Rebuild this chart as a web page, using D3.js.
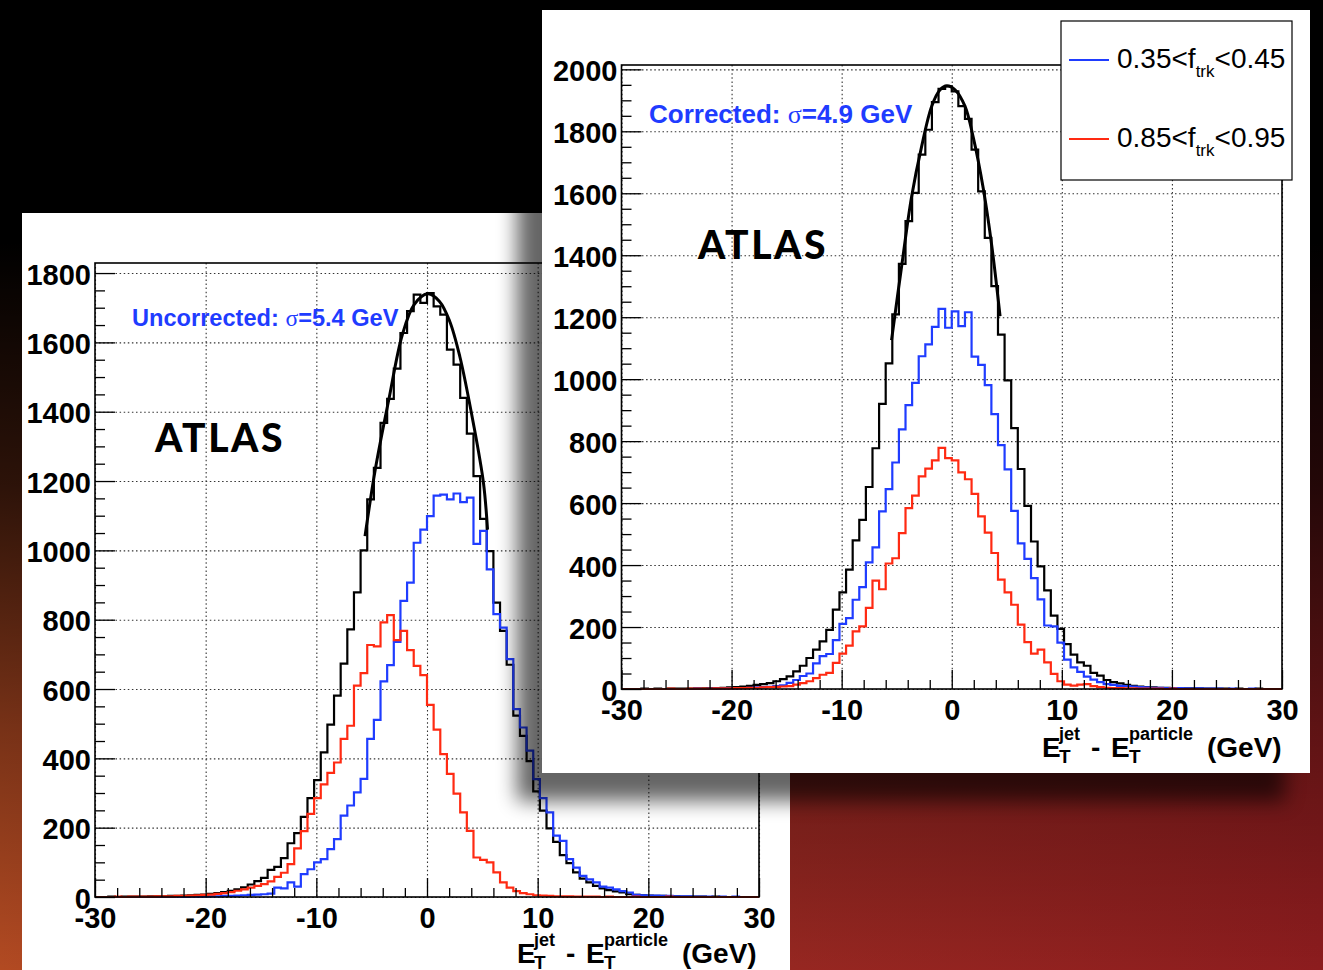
<!DOCTYPE html>
<html>
<head>
<meta charset="utf-8">
<script src="https://cdn.jsdelivr.net/npm/d3@7"></script>
<style>
  body { margin: 0; background: #000; overflow: hidden; }
</style>
</head>
<body>
<svg id="chart"></svg>
<script>
// binning: 100 bins from -30 to 30 GeV
var xMin = -30, xMax = 30, nBins = 100;
var xTicks = [-30, -20, -10, 0, 10, 20, 30];
var xMinor = [-28, -26, -24, -22, -18, -16, -14, -12, -8, -6, -4, -2, 2, 4, 6, 8, 12, 14, 16, 18, 22, 24, 26, 28];
var leftYTicks = [0, 200, 400, 600, 800, 1000, 1200, 1400, 1600, 1800];
var rightYTicks = [0, 200, 400, 600, 800, 1000, 1200, 1400, 1600, 1800, 2000];

// uncorrected (left panel)
var leftAll = [0,0,1,0,1,1,1,1,2,2, 2,3,3,4,5,6,7,9,11,14,
  18,22,28,36,46,55,78,87,112,155, 184,231,285,337,417,497,581,673,772,879,
  1000,1147,1238,1368,1437,1524,1627,1690,1738,1714, 1742,1704,1680,1579,1536,1440,1337,1214,1091,998,
  849,768,670,523,465,392,305,249,198,159, 121,98,71,53,42,32,25,20,16,13,
  8,6,5,4,3,3,2,2,1,1, 1,1,0,1,0,0,0,0,0,0];
var leftLow = [0,0,0,0,0,0,0,0,0,0, 0,0,1,0,1,1,1,2,2,3,
  3,4,5,6,7,8,10,27,25,42, 30,66,80,100,109,138,167,235,264,302,
  341,456,511,622,669,736,854,907,1022,1060, 1099,1158,1161,1147,1164,1139,1152,1019,1056,945,
  816,777,686,542,489,422,340,285,244,177, 162,109,85,61,51,42,30,27,22,17,
  13,6,5,4,4,3,3,2,2,2, 1,1,1,0,1,0,1,0,0,0];
var leftHigh = [0,0,0,1,0,1,1,1,1,2, 2,2,3,3,4,5,6,7,9,11,
  14,18,22,27,32,37,45,58,70,95, 140,190,240,285,325,358,388,456,494,610,
  646,727,723,792,813,741,768,712,667,640, 554,483,412,355,298,244,191,114,107,100,
  71,42,27,17,11,8,5,4,3,2, 2,2,1,1,1,1,0,1,0,0,
  0,1,0,0,0,0,1,0,0,0, 0,0,0,0,0,0,0,0,0,0];
var leftFit = [[-5.6,1041],[-4.67,1234],[-3.45,1435],[-2.23,1622],[-1.16,1709],[0.06,1740],
  [1.13,1718],[2.05,1661],[2.96,1560],[4.18,1368],[5.1,1195],[5.47,1060]];

// corrected (right panel)
var rightAll = [0,0,0,1,0,1,0,1,1,1, 1,2,2,3,3,4,5,6,8,10,
  13,16,19,25,32,41,57,75,100,127, 154,191,256,312,385,480,546,652,777,920,
  1051,1209,1372,1510,1601,1725,1805,1894,1937,1945, 1929,1881,1840,1741,1606,1456,1300,1144,996,842,
  710,591,476,396,318,237,194,145,111,86, 75,52,43,29,22,18,13,10,8,6,
  5,4,4,3,3,2,2,2,1,1, 1,1,0,1,0,0,1,0,0,0];
var rightLow = [0,0,0,0,0,0,0,0,0,0, 0,1,0,1,1,1,2,2,3,4,
  5,6,7,9,12,20,29,42,50,83, 106,113,158,210,229,288,329,409,457,573,
  645,731,838,916,988,1074,1112,1169,1227,1166, 1219,1171,1216,1073,1046,981,887,787,709,575,
  470,420,358,289,205,202,150,95,70,55, 40,30,22,16,13,10,9,8,6,5,
  4,4,3,2,3,2,1,2,1,1, 1,0,1,0,0,1,0,0,0,0];
var rightHigh = [0,0,0,0,0,0,0,1,0,0, 1,1,1,1,2,2,2,3,3,4,
  4,5,6,7,8,9,14,19,25,35, 46,52,84,114,140,186,202,262,350,322,
  405,422,503,584,624,686,711,738,778,745, 738,699,677,630,557,505,439,353,312,272,
  208,151,114,127,86,49,25,14,11,14, 16,9,6,4,3,3,2,2,1,1,
  1,1,0,1,0,0,0,0,0,0, 0,0,0,0,0,0,0,0,0,0];
var rightFit = [[-5.47,1126],[-4.55,1365],[-3.64,1590],[-2.73,1752],[-1.82,1881],[-1.06,1934],
  [-0.45,1947],[0.3,1934],[1.2,1881],[1.97,1778],[2.88,1612],[3.64,1429],[4.39,1203]];

var legendLabels = [["0.35<f", "trk", "<0.45"], ["0.85<f", "trk", "<0.95"]];

var colAll = "#000000", colLow = "#1f3cff", colHigh = "#ff2a12";
var labelFont = "'Liberation Sans', Arial, Helvetica, sans-serif";

var W = 1323, H = 970;
var svg = d3.select("#chart").attr("width", W).attr("height", H);
var defs = svg.append("defs");

// background gradients
var hg = defs.append("linearGradient").attr("id", "bgH").attr("x1", 0).attr("x2", 1).attr("y1", 0).attr("y2", 0);
hg.append("stop").attr("offset", "0%").attr("stop-color", "#b24a22");
hg.append("stop").attr("offset", "45%").attr("stop-color", "#9a2b22");
hg.append("stop").attr("offset", "100%").attr("stop-color", "#8c1c1e");
var vg = defs.append("linearGradient").attr("id", "bgV").attr("x1", 0).attr("x2", 0).attr("y1", 0).attr("y2", 1);
vg.append("stop").attr("offset", "0%").attr("stop-color", "#000").attr("stop-opacity", 1);
vg.append("stop").attr("offset", "25%").attr("stop-color", "#000").attr("stop-opacity", 1);
vg.append("stop").attr("offset", "50%").attr("stop-color", "#000").attr("stop-opacity", 0.75);
vg.append("stop").attr("offset", "75%").attr("stop-color", "#000").attr("stop-opacity", 0.33);
vg.append("stop").attr("offset", "100%").attr("stop-color", "#000").attr("stop-opacity", 0);

var blur = defs.append("filter").attr("id", "shadow").attr("x", "-10%").attr("y", "-10%").attr("width", "120%").attr("height", "120%");
blur.append("feGaussianBlur").attr("stdDeviation", 10);

svg.append("rect").attr("width", W).attr("height", H).attr("fill", "url(#bgH)");
svg.append("rect").attr("width", W).attr("height", H).attr("fill", "url(#bgV)");

var edges = d3.range(nBins + 1).map(function(i) { return xMin + i * (xMax - xMin) / nBins; });

function drawPlot(opt) {
  var g = svg.append("g").attr("transform", `translate(${opt.left}, ${opt.top})`);
  var x = d3.scaleLinear().domain([xMin, xMax]).range([0, opt.width]);
  var y = d3.scaleLinear().domain([0, opt.yMax]).range([opt.height, 0]);

  // dotted grid
  g.append("g")
    .call(d3.axisBottom(x).tickValues(xTicks).tickSize(opt.height).tickFormat(""))
    .call(function(a) { a.select(".domain").remove(); })
    .selectAll("line").attr("stroke", "#333").attr("stroke-width", 1.1).attr("stroke-dasharray", "1.5,2.6");
  g.append("g")
    .call(d3.axisRight(y).tickValues(opt.yTicks).tickSize(opt.width).tickFormat(""))
    .call(function(a) { a.select(".domain").remove(); })
    .selectAll("line").attr("stroke", "#333").attr("stroke-width", 1.1).attr("stroke-dasharray", "1.5,2.6");

  g.append("clipPath").attr("id", opt.id + "clip")
    .append("rect").attr("width", opt.width).attr("height", opt.height + 2).attr("y", -1);

  var line = d3.line()
    .x(function(d) { return x(d[0]); })
    .y(function(d) { return y(d[1]); })
    .curve(d3.curveStepAfter);

  var hists = g.append("g").attr("clip-path", `url(#${opt.id}clip)`);
  [[opt.all, colAll], [opt.low, colLow], [opt.high, colHigh]].forEach(function(s) {
    var pts = s[0].map(function(v, i) { return [edges[i], v]; });
    pts.push([xMax, s[0][nBins - 1]]);
    hists.append("path").attr("d", line(pts))
      .attr("fill", "none").attr("stroke", s[1]).attr("stroke-width", 2.2)
      .attr("stroke-linejoin", "miter");
  });

  // gaussian fit curve
  var fitLine = d3.line()
    .x(function(d) { return x(d[0]); })
    .y(function(d) { return y(d[1]); })
    .curve(d3.curveCatmullRom);
  hists.append("path").attr("d", fitLine(opt.fit))
    .attr("fill", "none").attr("stroke", "#000").attr("stroke-width", 3);

  // frame
  g.append("rect").attr("width", opt.width).attr("height", opt.height)
    .attr("fill", "none").attr("stroke", "#000").attr("stroke-width", 1.6);

  // ticks inside the frame
  var yMinor = d3.range(0, opt.yMax, 50).filter(function(v) { return v % 200 !== 0; });
  function tickGroup(axis) {
    g.append("g").call(axis)
      .call(function(a) { a.select(".domain").remove(); })
      .selectAll("line").attr("stroke", "#000").attr("stroke-width", 1.3);
  }
  tickGroup(d3.axisRight(y).tickValues(opt.yTicks).tickSize(20).tickFormat(""));
  tickGroup(d3.axisRight(y).tickValues(yMinor).tickSize(10).tickFormat(""));
  var bottom = g.append("g").attr("transform", `translate(0, ${opt.height})`);
  bottom.call(d3.axisTop(x).tickValues(xTicks).tickSize(19).tickFormat(""))
    .call(function(a) { a.select(".domain").remove(); })
    .selectAll("line").attr("stroke", "#000").attr("stroke-width", 1.3);
  var bottomMinor = g.append("g").attr("transform", `translate(0, ${opt.height})`);
  bottomMinor.call(d3.axisTop(x).tickValues(xMinor).tickSize(9).tickFormat(""))
    .call(function(a) { a.select(".domain").remove(); })
    .selectAll("line").attr("stroke", "#000").attr("stroke-width", 1.3);

  // tick labels
  var yl = g.append("g")
    .call(d3.axisLeft(y).tickValues(opt.yTicks).tickSize(0).tickPadding(4).tickFormat(function(d) { return String(d); }));
  yl.select(".domain").remove();
  yl.attr("font-family", labelFont).attr("font-size", 29).attr("font-weight", "bold");
  yl.selectAll("text").attr("fill", "#000").attr("dy", "0.38em");

  var xl = g.append("g").attr("transform", `translate(0, ${opt.height})`)
    .call(d3.axisBottom(x).tickValues(xTicks).tickSize(0).tickPadding(10).tickFormat(function(d) { return String(d); }));
  xl.select(".domain").remove();
  xl.attr("font-family", labelFont).attr("font-size", 29).attr("font-weight", "bold");
  xl.selectAll("text").attr("fill", "#000");
}

function axisTitle(x0, base) {
  var t = svg.append("g").attr("font-family", labelFont).attr("font-weight", "bold").attr("fill", "#000");
  function piece(dx, dy, size, str) {
    t.append("text").attr("x", x0 + dx).attr("y", base + dy).attr("font-size", size).text(str);
  }
  piece(0, 0, 28, "E");
  piece(17, -17, 18, "jet");
  piece(17, 6, 19, "T");
  piece(49, 0, 28, "-");
  piece(69, 0, 28, "E");
  piece(87, -17, 18, "particle");
  piece(87, 6, 19, "T");
  piece(165, 0, 28, "(GeV)");
}

function note(x0, base, size, before, after) {
  var t = svg.append("text").attr("x", x0).attr("y", base)
    .attr("font-family", labelFont).attr("font-weight", "bold")
    .attr("font-size", size).attr("fill", colLow);
  t.append("tspan").text(before);
  t.append("tspan").attr("font-family", "'Liberation Serif', 'DejaVu Serif', serif").attr("font-weight", "normal").text("σ");
  t.append("tspan").text(after);
}

function atlas(x0, base) {
  svg.append("text").attr("x", x0).attr("y", base)
    .attr("font-family", "Lato, 'DejaVu Sans', sans-serif").attr("font-weight", 900)
    .attr("font-size", 39).attr("letter-spacing", 2.5).attr("fill", "#000").text("ATLAS");
}

// ---- left panel (uncorrected)
svg.append("rect").attr("x", 22).attr("y", 213).attr("width", 768).attr("height", 780).attr("fill", "#fff");
drawPlot({ id: "L", left: 95, top: 263, width: 664, height: 634, yMax: 1829, yTicks: leftYTicks,
  all: leftAll, low: leftLow, high: leftHigh, fit: leftFit });
note(132, 326, 23.6, "Uncorrected: ", "=5.4 GeV");
atlas(155, 452);
axisTitle(517, 963);

// ---- right panel (corrected), with drop shadow
svg.append("rect").attr("x", 542 - 25).attr("y", 10 + 28).attr("width", 768).attr("height", 763)
  .attr("fill", "#000").attr("opacity", 0.6).attr("filter", "url(#shadow)");
svg.append("rect").attr("x", 542).attr("y", 10).attr("width", 768).attr("height", 763).attr("fill", "#fff");
drawPlot({ id: "R", left: 621.5, top: 65, width: 660.5, height: 624, yMax: 2014, yTicks: rightYTicks,
  all: rightAll, low: rightLow, high: rightHigh, fit: rightFit });
note(649, 123, 26, "Corrected: ", "=4.9 GeV");
atlas(698, 259);
axisTitle(1042, 757);

// legend
var leg = svg.append("g");
leg.append("rect").attr("x", 1061).attr("y", 21).attr("width", 231).attr("height", 159)
  .attr("fill", "#fff").attr("stroke", "#000").attr("stroke-width", 1.2);
legendLabels.forEach(function(lab, i) {
  var cy = i === 0 ? 60 : 139;
  leg.append("line").attr("x1", 1069).attr("x2", 1109).attr("y1", cy).attr("y2", cy)
    .attr("stroke", i === 0 ? colLow : colHigh).attr("stroke-width", 2);
  var t = leg.append("text").attr("x", 1117).attr("y", cy + 8)
    .attr("font-family", labelFont).attr("font-size", 28).attr("fill", "#000");
  t.append("tspan").text(lab[0]);
  t.append("tspan").attr("font-size", 17).attr("dy", 9).text(lab[1]);
  t.append("tspan").attr("dy", -9).text(lab[2]);
});
</script>
</body>
</html>
